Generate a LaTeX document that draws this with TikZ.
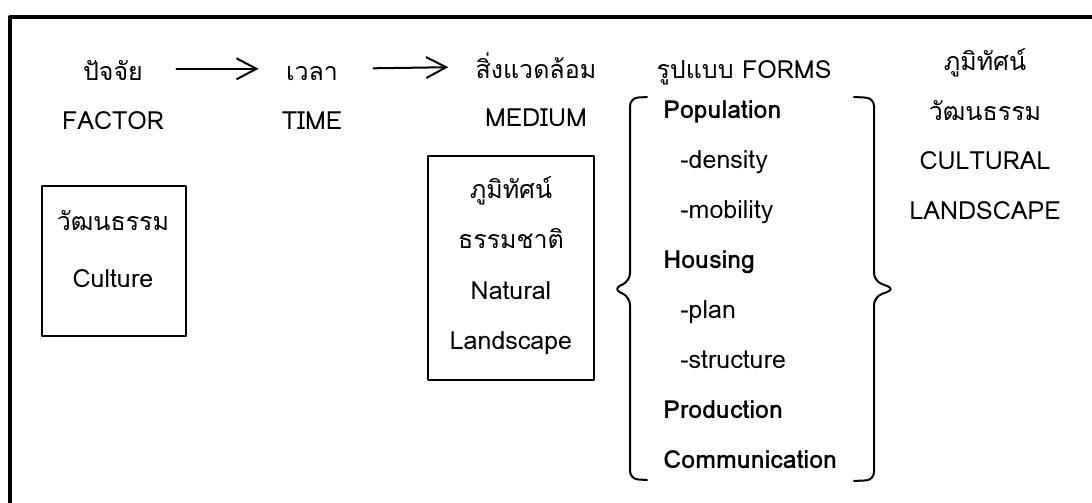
\documentclass[tikz,border=0pt]{standalone}
\usepackage{fontspec}
\setmainfont[Script=Thai]{Loma}
\usetikzlibrary{arrows.meta}

\begin{document}
\begin{tikzpicture}[line cap=round,line join=round,>={Straight Barb[length=10pt,width=10.5pt]},x=0.5pt,y=-0.5pt,
	lbl/.style={anchor=base,inner sep=0pt,font=\fontsize{12.5}{15}\selectfont},
	itm/.style={lbl,anchor=base west},
	hd/.style={itm,font=\fontsize{12.5}{15}\selectfont\bfseries},
	arr/.style={->,line width=1pt},
	brk/.style={line width=1pt,rounded corners=4pt}]
			\useasboundingbox (0,0) rectangle (1092,503);
			\draw [line width=2pt,line cap=butt] (10,503)-- (10,17)-- (1092,17);
			% header row
			\draw (113,80) node[lbl] (facTH) {ปัจจัย};
			\draw (113,129) node[lbl] (facEN) {FACTOR};
			\draw (312,80) node[lbl] (timeTH) {เวลา};
			\draw (312,129) node[lbl] (timeEN) {TIME};
			\draw (536,78) node[lbl] (medTH) {สิ่งแวดล้อม};
			\draw (536,126) node[lbl] (medEN) {MEDIUM};
			\draw (744,78) node[lbl] (forms) {รูปแบบ FORMS};
			\draw [arr,shorten <=16.5pt,shorten >=13.5pt] ([yshift=3pt]facTH.mid east)-- ([yshift=3pt]timeTH.mid west);
			\draw [arr,shorten <=17.5pt,shorten >=13.5pt] ([yshift=3pt]timeTH.mid east)-- ([yshift=3pt]medTH.mid west);
			% boxes
			\draw [line width=0.75pt] (42,186) rectangle (186,336);
			\draw (113,230) node[lbl] (cultTH) {วัฒนธรรม};
			\draw (113,287) node[lbl] (cultEN) {Culture};
			\draw [line width=0.75pt] (428,156) rectangle (594,380);
			\draw (511,198) node[lbl] (natA) {ภูมิทัศน์};
			\draw (511,248) node[lbl] (natB) {ธรรมชาติ};
			\draw (511,299) node[lbl] (natC) {Natural};
			\draw (511,349) node[lbl] (natD) {Landscape};
			% forms list
			\draw (663,118) node[hd] (pop) {Population};
			\draw (680,168) node[itm] (dens) {-density};
			\draw (680,218) node[itm] (mob) {-mobility};
			\draw (663,268) node[hd] (hous) {Housing};
			\draw (680,318) node[itm] (plan) {-plan};
			\draw (680,368) node[itm] (struc) {-structure};
			\draw (663,418) node[hd] (prod) {Production};
			\draw (663,468) node[hd] (comm) {Communication};
			\draw [brk] (647,97)-- (630,98)-- (630,281)-- (613,289)-- (630,297)-- (630,479)-- (647,480);
			\draw [brk] (854,97)-- (874,98)-- (874,281)-- (895,289)-- (874,297)-- (874,480)-- (854,481);
			% result
			\draw (985,70) node[lbl] (resA) {ภูมิทัศน์};
			\draw (985,120) node[lbl] (resB) {วัฒนธรรม};
			\draw (985,169) node[lbl] (resC) {CULTURAL};
			\draw (985,219) node[lbl] (resD) {LANDSCAPE};
\end{tikzpicture}
\end{document}
